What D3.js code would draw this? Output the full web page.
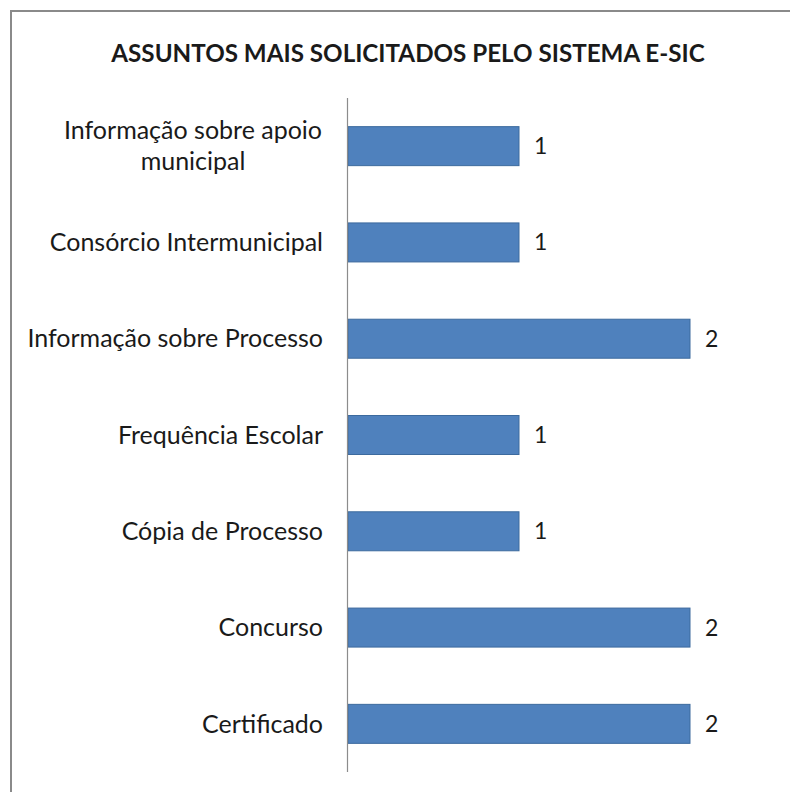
<!DOCTYPE html>
<html>
<head>
<meta charset="utf-8">
<script src="https://cdn.jsdelivr.net/npm/d3@7"></script>
<style>
  body { margin: 0; background: #fff; }
  text { font-family: Lato, "Open Sans", sans-serif; fill: #1a1a1a; }
</style>
</head>
<body>
<div id="chart"></div>
<script>
// categories top to bottom, as in the picture
var categories = [
    ["Informação sobre apoio", "municipal"],
    ["Consórcio Intermunicipal"],
    ["Informação sobre Processo"],
    ["Frequência Escolar"],
    ["Cópia de Processo"],
    ["Concurso"],
    ["Certificado"]
];
var values = [1, 1, 2, 1, 1, 2, 2];
var chartTitle = "ASSUNTOS  MAIS SOLICITADOS PELO SISTEMA E-SIC";

var width = 790, height = 792;

var svg = d3.select("#chart").append("svg")
    .attr("width", width)
    .attr("height", height);

svg.append("rect")
    .attr("x", 11).attr("y", 11)
    .attr("width", width).attr("height", height)
    .attr("fill", "#fff")
    .attr("stroke", "#8a8a8a")
    .attr("stroke-width", 2);

svg.append("text")
    .attr("x", 408).attr("y", 62)
    .attr("text-anchor", "middle")
    .style("font-size", "24.2px")
    .style("font-weight", "bold")
    .text(chartTitle);

var keys = categories.map(function (d, i) { return i; });

var x = d3.scaleLinear()
    .domain([0, 2])
    .range([348, 690]);

var y = d3.scaleBand()
    .domain(keys)
    .range([98, 772])
    .paddingInner(0.595)
    .paddingOuter(0.2975);

svg.selectAll("rect.bar")
    .data(values)
    .enter().append("rect")
    .attr("class", "bar")
    .attr("x", x(0))
    .attr("y", function (d, i) { return y(i); })
    .attr("width", function (d) { return x(d) - x(0); })
    .attr("height", y.bandwidth())
    .attr("fill", "#4f81bd")
    .attr("stroke", "#3c6a9e")
    .attr("stroke-width", 1);

// value labels
svg.selectAll("text.val")
    .data(values)
    .enter().append("text")
    .attr("class", "val")
    .attr("x", function (d) { return x(d) + 15; })
    .attr("y", function (d, i) { return y(i) + y.bandwidth() / 2; })
    .attr("dy", "0.35em")
    .style("font-size", "23px")
    .text(function (d) { return d; });

// category labels
var labels = svg.selectAll("text.cat")
    .data(categories)
    .enter().append("text")
    .attr("class", "cat")
    .style("font-size", "25px")
    .attr("text-anchor", function (d) { return d.length > 1 ? "middle" : "end"; })
    .attr("y", function (d, i) { return y(i) + y.bandwidth() / 2; });

labels.each(function (d) {
    var t = d3.select(this);
    var cx = d.length > 1 ? 193 : 323;
    d.forEach(function (line, j) {
        t.append("tspan")
            .attr("x", cx)
            .attr("dy", j == 0 ? (0.35 - (d.length - 1) * 0.62) + "em" : "1.24em")
            .text(line);
    });
});

// vertical axis line
svg.append("line")
    .attr("x1", x(0) - 0.5).attr("x2", x(0) - 0.5)
    .attr("y1", 98).attr("y2", 772)
    .attr("stroke", "#8c8c8c")
    .attr("stroke-width", 1.2);
</script>
</body>
</html>
